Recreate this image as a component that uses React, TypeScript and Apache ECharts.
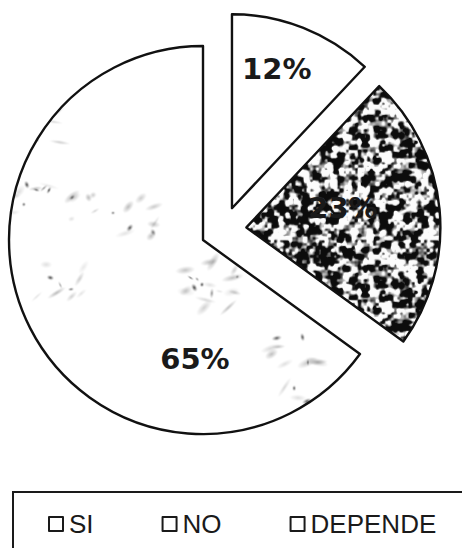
import React, { useEffect, useRef } from 'react';
import * as echarts from 'echarts';

// Answer shares, in percent, listed clockwise from twelve o'clock
const categories = ['NO', 'DEPENDE', 'SI'];
const shares = [12, 23, 65];
const legendOrder = ['SI', 'NO', 'DEPENDE'];

// Nudges for the in-slice percentage labels (px)
const labelNudge: Record<string, [number, number]> = {
  NO: [8, -46],
  DEPENDE: [-3, -10],
  SI: [81, 74],
};

function rng(seed: number) {
  let a = seed >>> 0;
  return () => {
    a = (a + 0x6d2b79f5) >>> 0;
    let t = a;
    t = Math.imul(t ^ (t >>> 15), t | 1);
    t ^= t + Math.imul(t ^ (t >>> 7), t | 61);
    return ((t ^ (t >>> 14)) >>> 0) / 4294967296;
  };
}

// Tileable value noise in [0,1]
function noiseField(size: number, cells: number[], weights: number[], seed: number) {
  const rand = rng(seed);
  const out = new Float32Array(size * size);
  let wsum = 0;
  cells.forEach((cell, k) => {
    const n = Math.round(size / cell);
    const g = new Float32Array(n * n);
    for (let i = 0; i < n * n; i++) g[i] = rand();
    const w = weights[k];
    wsum += w;
    for (let y = 0; y < size; y++) {
      const fy = (y / size) * n;
      const y0 = Math.floor(fy);
      const ty = fy - y0;
      const sy = ty * ty * (3 - 2 * ty);
      for (let x = 0; x < size; x++) {
        const fx = (x / size) * n;
        const x0 = Math.floor(fx);
        const tx = fx - x0;
        const sx = tx * tx * (3 - 2 * tx);
        const x1 = (x0 + 1) % n;
        const y1 = (y0 + 1) % n;
        const a = g[y0 * n + x0];
        const b = g[y0 * n + x1];
        const c = g[y1 * n + x0];
        const d = g[y1 * n + x1];
        const v = (a * (1 - sx) + b * sx) * (1 - sy) + (c * (1 - sx) + d * sx) * sy;
        out[y * size + x] += v * w;
      }
    }
  });
  for (let i = 0; i < out.length; i++) out[i] /= wsum;
  return out;
}

// Dense black-and-white mottle
function darkSpeckle() {
  const size = 150;
  const f = noiseField(size, [6, 3], [0.6, 0.4], 7);
  const cv = document.createElement('canvas');
  cv.width = size;
  cv.height = size;
  const ctx = cv.getContext('2d')!;
  const img = ctx.createImageData(size, size);
  for (let i = 0; i < size * size; i++) {
    const v = Math.max(0, Math.min(1, (f[i] - 0.52) * 5 + 0.5));
    const c = Math.round(v * 240 + 12);
    img.data[i * 4] = c;
    img.data[i * 4 + 1] = c;
    img.data[i * 4 + 2] = c;
    img.data[i * 4 + 3] = 255;
  }
  ctx.putImageData(img, 0, 0);
  return { url: cv.toDataURL(), size };
}

// Pale grey smudges and a few dark flecks on white
function lightSpeckle() {
  const size = 280;
  const rand = rng(33);
  const cv = document.createElement('canvas');
  cv.width = size;
  cv.height = size;
  const ctx = cv.getContext('2d')!;
  ctx.fillStyle = '#ffffff';
  ctx.fillRect(0, 0, size, size);
  const blob = (x: number, y: number, rx: number, ry: number, rot: number, col: string) => {
    for (const ox of [-size, 0, size]) {
      for (const oy of [-size, 0, size]) {
        ctx.save();
        ctx.translate(x + ox, y + oy);
        ctx.rotate(rot);
        ctx.scale(rx, ry);
        const g = ctx.createRadialGradient(0, 0, 0, 0, 0, 1);
        g.addColorStop(0, col);
        g.addColorStop(1, 'rgba(120,120,120,0)');
        ctx.fillStyle = g;
        ctx.beginPath();
        ctx.arc(0, 0, 1, 0, Math.PI * 2);
        ctx.fill();
        ctx.restore();
      }
    }
  };
  // smudges gathered in loose clusters
  for (let k = 0; k < 9; k++) {
    const cx = rand() * size;
    const cy = rand() * size;
    for (let i = 0; i < 7; i++) {
      blob(
        cx + (rand() - 0.5) * 60,
        cy + (rand() - 0.5) * 40,
        3 + rand() * 9,
        1.5 + rand() * 3,
        -0.4 + (rand() - 0.5) * 1.4,
        `rgba(110,110,110,${0.15 + rand() * 0.35})`,
      );
    }
    for (let i = 0; i < 3; i++) {
      blob(
        cx + (rand() - 0.5) * 50,
        cy + (rand() - 0.5) * 36,
        1.5 + rand() * 4,
        1 + rand() * 2,
        rand() * 3,
        `rgba(20,20,20,${0.5 + rand() * 0.4})`,
      );
    }
  }
  return { url: cv.toDataURL(), size };
}

export default function App() {
  const ref = useRef<HTMLDivElement>(null);

  useEffect(() => {
    if (!ref.current) return;
    const chart = echarts.init(ref.current, null, { renderer: 'svg' });
    const dark = darkSpeckle();
    const light = lightSpeckle();
    const fills: Record<string, any> = {
      NO: '#ffffff',
      DEPENDE: { image: dark.url, repeat: 'repeat', imageWidth: dark.size, imageHeight: dark.size },
      SI: { image: light.url, repeat: 'repeat', imageWidth: light.size, imageHeight: light.size },
    };

    chart.setOption({
      animation: false,
      backgroundColor: '#ffffff',
      legend: {
        data: legendOrder,
        orient: 'horizontal',
        left: 43,
        top: 506,
        itemGap: 68,
        itemWidth: 14,
        itemHeight: 14,
        icon: 'rect',
        selectedMode: false,
        itemStyle: { color: '#ffffff', borderColor: '#1a1a1a', borderWidth: 2 },
        textStyle: {
          fontFamily: 'Liberation Sans',
          fontSize: 26,
          color: '#1a1a1a',
          padding: [0, 0, 0, 1],
        },
      },
      graphic: [
        {
          type: 'rect',
          shape: { x: 13, y: 492, width: 470, height: 80 },
          style: { fill: 'none', stroke: '#1a1a1a', lineWidth: 2 },
          silent: true,
        },
      ],
      series: [
        {
          type: 'pie',
          center: [223.5, 229.6],
          radius: 194,
          startAngle: 90,
          clockwise: true,
          selectedMode: 'multiple',
          selectedOffset: 23,
          avoidLabelOverlap: false,
          emphasis: { disabled: true },
          select: { disabled: false, itemStyle: { borderColor: '#111', borderWidth: 2.4 } },
          itemStyle: { borderColor: '#111', borderWidth: 2.4 },
          label: {
            show: true,
            position: 'inside',
            formatter: '{c}%',
            fontFamily: 'DejaVu Sans',
            fontWeight: 'bold',
            fontSize: 29,
            color: '#1a1a1a',
          },
          labelLine: { show: false },
          labelLayout: (p: any) => {
            const name = categories[p.dataIndex];
            const [dx, dy] = labelNudge[name];
            return { dx, dy };
          },
          data: categories.map((name, i) => ({
            name,
            value: shares[i],
            selected: true,
            itemStyle: { color: fills[name] },
          })),
        },
      ],
    });

    return () => chart.dispose();
  }, []);

  return (
    <div
      ref={ref}
      style={{ position: 'fixed', left: 0, top: 0, width: 462, height: 548 }}
    />
  );
}
